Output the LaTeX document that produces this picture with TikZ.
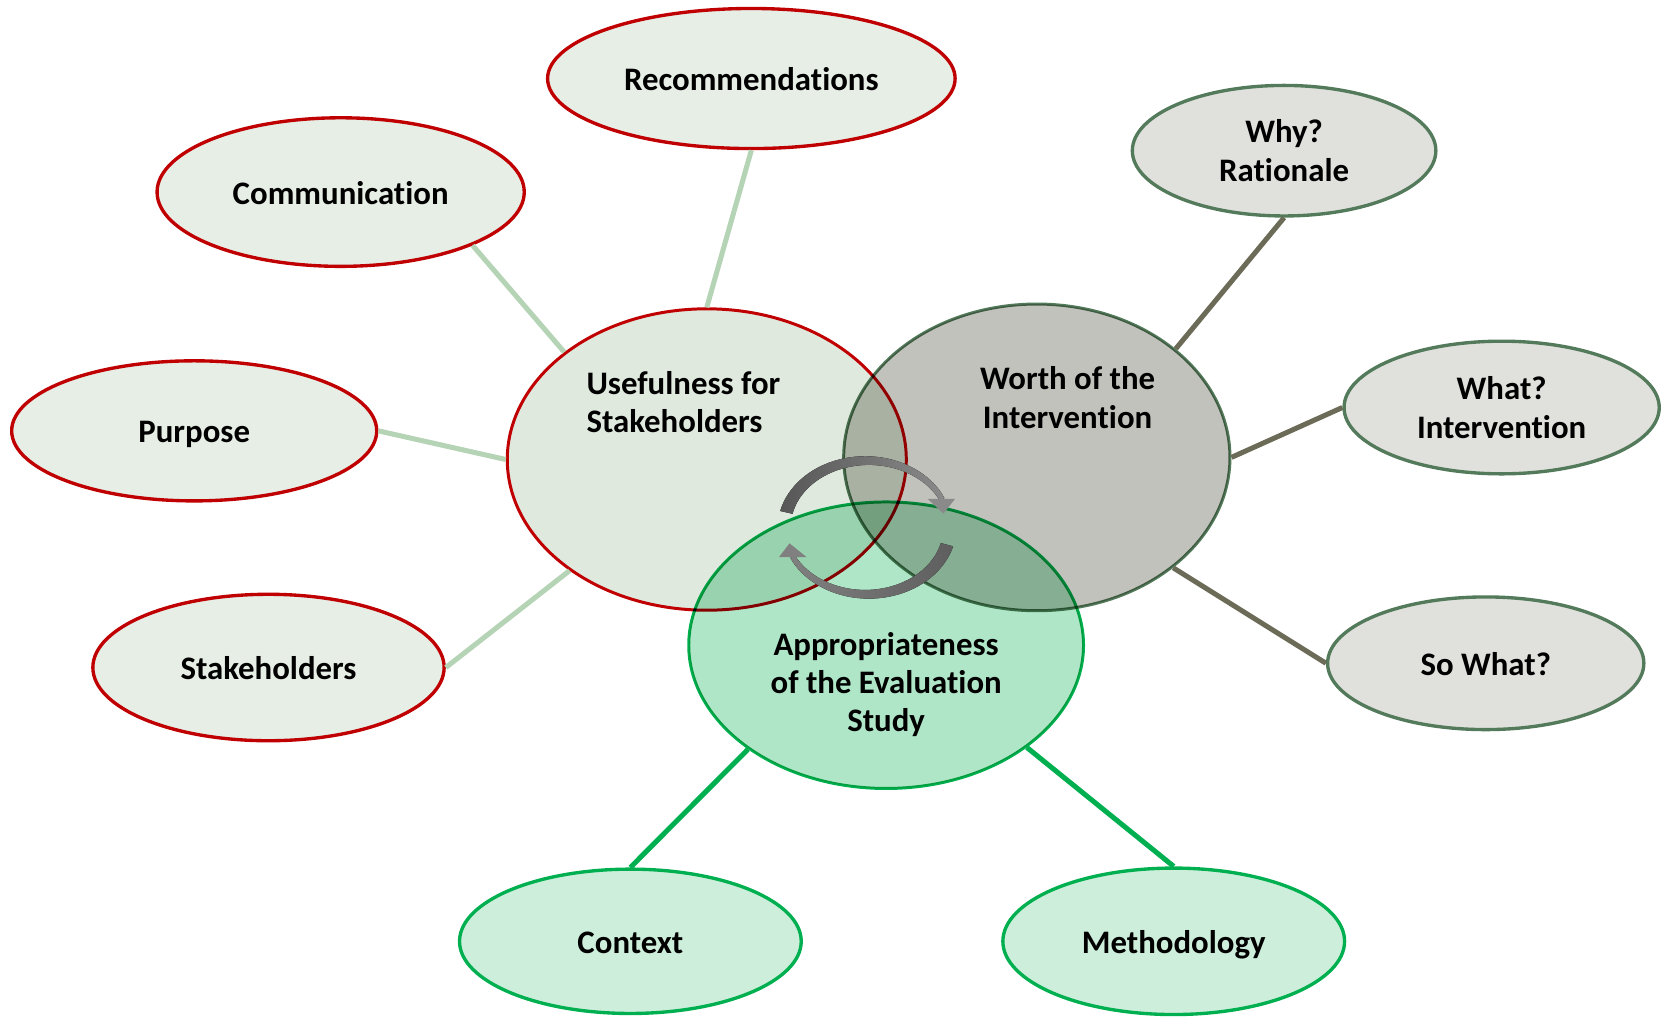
\documentclass[tikz,border=0pt]{standalone}
\usepackage{fontspec}
\setmainfont{Carlito}[Ligatures=NoCommon]
\usetikzlibrary{shapes.geometric}
\definecolor{redline}{RGB}{192,0,0}
\definecolor{palefill}{RGB}{230,238,230}
\definecolor{usefill}{RGB}{223,233,222}
\definecolor{worfill}{RGB}{194,194,188}
\definecolor{appfill}{RGB}{176,230,200}
\definecolor{greenline}{RGB}{0,176,80}
\definecolor{greenfill}{RGB}{205,238,218}
\definecolor{grayline}{RGB}{83,122,90}
\definecolor{grayfill}{RGB}{224,224,220}
\definecolor{leftlink}{RGB}{181,211,181}
\definecolor{rightlink}{RGB}{107,107,88}
\tikzset{
  bubble/.style={ellipse, inner sep=0pt, line width=0.9pt, align=center,
    font=\fontsize{8.8}{10.3}\selectfont\bfseries},
  oneline/.style={text height=0.894em, text depth=0.25em},
  redbubble/.style={bubble, draw=redline, fill=palefill},
  graybubble/.style={bubble, draw=grayline, fill=grayfill},
  greenbubble/.style={bubble, draw=greenline, fill=greenfill},
  ringtext/.style={inner sep=0pt, align=center, font=\fontsize{8.8}{10.3}\selectfont\bfseries},
  link/.style={line width=1.35pt}
}

\begin{document}
\begin{tikzpicture}
    \useasboundingbox (0,0) rectangle (15.68,9.58);
    % outer bubbles
    \node[redbubble, oneline, minimum width=3.84cm, minimum height=1.32cm] (rec) at (7.08,8.84) {Recommendations};
    \node[redbubble, oneline, minimum width=3.46cm, minimum height=1.40cm] (com) at (3.21,7.77) {Communication};
    \node[redbubble, oneline, minimum width=3.44cm, minimum height=1.32cm] (pur) at (1.83,5.52) {Purpose};
    \node[redbubble, oneline, minimum width=3.31cm, minimum height=1.38cm] (stk) at (2.53,3.29) {Stakeholders};
    \node[graybubble, minimum width=2.86cm, minimum height=1.23cm] (why) at (12.10,8.16) {Why?\\Rationale};
    \node[graybubble, minimum width=2.97cm, minimum height=1.25cm] (wha) at (14.15,5.74) {What?\\Intervention};
    \node[graybubble, oneline, minimum width=2.98cm, minimum height=1.25cm] (sow) at (14.00,3.33) {So What?};
    \node[greenbubble, oneline, minimum width=3.22cm, minimum height=1.36cm] (con) at (5.94,0.71) {Context};
    \node[greenbubble, oneline, minimum width=3.22cm, minimum height=1.38cm] (met) at (11.06,0.71) {Methodology};

    % three rings
    \node[ellipse, draw=redline, fill=usefill, line width=0.8pt, minimum width=3.76cm, minimum height=2.84cm] (use) at (6.66,5.25) {};
    \begin{scope}[blend mode=multiply]
        \node[ellipse, draw=grayline, fill=worfill, line width=0.8pt, minimum width=3.64cm, minimum height=2.89cm] (wor) at (9.77,5.27) {};
        \node[ellipse, draw=greenline, fill=appfill, line width=0.8pt, minimum width=3.72cm, minimum height=2.70cm] (app) at (8.35,3.50) {};
    \end{scope}
    \node[ringtext, anchor=west, align=left] (usetext) at (5.52,5.79) {Usefulness for\\Stakeholders};
    \node[ringtext] (wortext) at (10.06,5.835) {Worth of the\\Intervention};
    \node[ringtext] (apptext) at (8.35,3.13) {Appropriateness\\of the Evaluation\\Study};

    % links
    \draw[link, leftlink] (com.-22) -- (use.143);
    \draw[link, leftlink] (rec.-90) -- (use.90);
    \draw[link, leftlink] (pur.0) -- (use.180);
    \draw[link, leftlink] (stk.0) -- (use.219);
    \draw[link, rightlink] (wor.38) -- (why.-90);
    \draw[link, rightlink] (wor.0) -- (wha.180);
    \draw[link, rightlink] (wor.-39) -- (sow.180);
    \draw[link, greenline] (app.217) -- (con.90);
    \draw[link, greenline] (app.-36) -- (met.90);

    % cycle arrows
    \coordinate (cyc) at (8.17,4.61);
    \begin{scope}[shift={(cyc)}]
        \fill[left color=black!66, right color=black!46]
            plot[domain=167:25, samples=40] ({(0.84-0.035*(167-\x)/142)*cos(\x)}, {(0.69-0.035*(167-\x)/142)*sin(\x)})
            -- plot[domain=25:167, samples=40] ({(0.72+0.035*(167-\x)/142)*cos(\x)}, {(0.57+0.035*(167-\x)/142)*sin(\x)}) -- cycle;
        \fill[black!46] (0.57,0.27) -- (0.83,0.27) -- (0.72,0.13) -- cycle;
        \fill[left color=black!50, right color=black!63]
            plot[domain=-15:-154, samples=40] ({(0.84-0.035*(-15-\x)/139)*cos(\x)}, {(0.69-0.035*(-15-\x)/139)*sin(\x)})
            -- plot[domain=-154:-15, samples=40] ({(0.72+0.035*(-15-\x)/139)*cos(\x)}, {(0.57+0.035*(-15-\x)/139)*sin(\x)}) -- cycle;
        \fill[black!50] (-0.83,-0.28) -- (-0.57,-0.28) -- (-0.73,-0.15) -- cycle;
    \end{scope}
\end{tikzpicture}
\end{document}
